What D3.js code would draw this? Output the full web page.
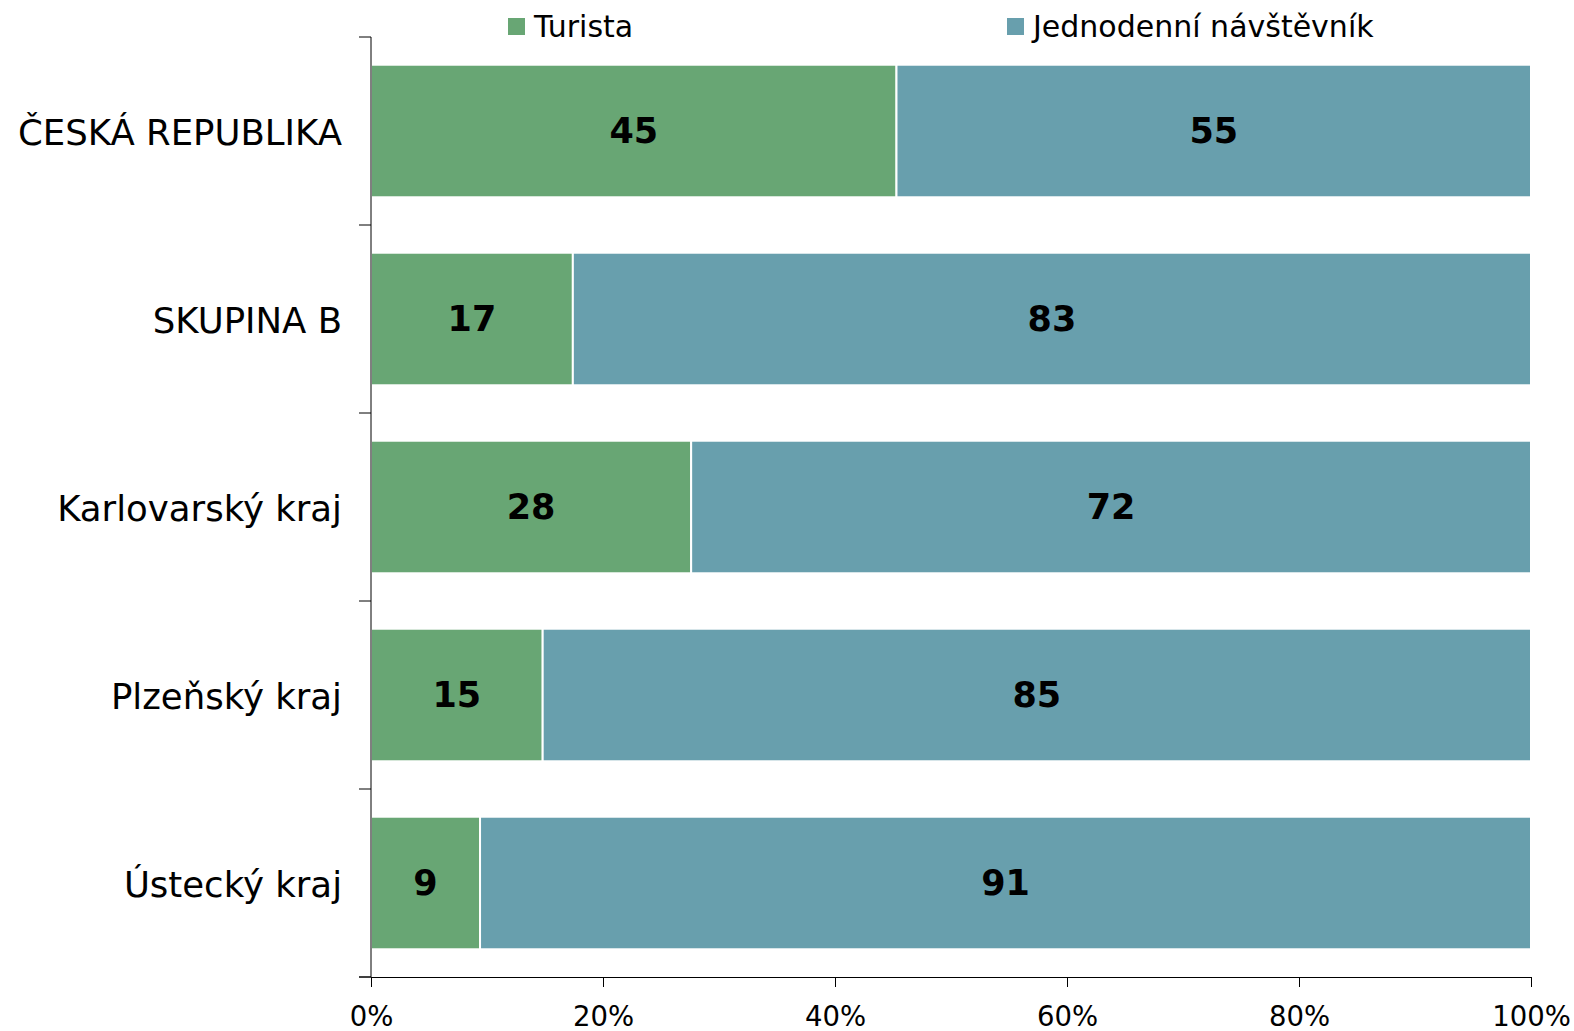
<!DOCTYPE html>
<html><head><meta charset="utf-8">
<script src="https://cdn.jsdelivr.net/npm/d3@7"></script>
<style>body{margin:0;background:#fff;} svg{display:block;font-family:"DejaVu Sans",Verdana,sans-serif;}</style>
</head><body>
<svg id="c" width="1574" height="1031"></svg>
<script>
const categories = ["ČESKÁ REPUBLIKA","SKUPINA B","Karlovarský kraj","Plzeňský kraj","Ústecký kraj"];
const turista = [45.3,17.4,27.6,14.8,9.4];
const jednodenni = [54.7,82.6,72.4,85.2,90.6];
const seriesNames = ["Turista","Jednodenní návštěvník"];
const seriesColors = ["#68a674","#689fad"];
const tickValues = [0,20,40,60,80,100];

const svg = d3.select("#c");
const x0 = 371, x1 = 1531, yTop = 37, yBot = 977;
const x = d3.scaleLinear().domain([0,100]).range([x0,x1]);
const y = d3.scaleBand().domain(categories).range([yTop,yBot]).paddingInner(0.295).paddingOuter(0.1475);

const stackData = categories.map((c,i)=>({cat:c, Turista:turista[i], "Jednodenní návštěvník":jednodenni[i]}));
const stack = d3.stack().keys(seriesNames)(stackData);

stack.forEach((s,si)=>{
  const g = svg.append("g");
  g.selectAll("rect").data(s).join("rect")
    .attr("x",d=>x(d[0])).attr("y",d=>y(d.data.cat))
    .attr("width",d=>x(d[1])-x(d[0])).attr("height",y.bandwidth())
    .attr("fill",seriesColors[si]).attr("stroke","#fff").attr("stroke-width",2);
  g.selectAll("text").data(s).join("text")
    .attr("x",d=>(x(d[0])+x(d[1]))/2).attr("y",d=>y(d.data.cat)+y.bandwidth()/2)
    .attr("text-anchor","middle").attr("dominant-baseline","central")
    .attr("font-weight","bold").attr("font-size",35).attr("fill","#000")
    .text(d=>Math.round(d[1]-d[0]));
});

// y axis line with ticks at band boundaries
const yAxisG = svg.append("g");
yAxisG.append("line").attr("x1",x0).attr("x2",x0).attr("y1",yTop).attr("y2",yBot).attr("stroke","#000").attr("stroke-width",1);
const step = (yBot-yTop)/categories.length;
d3.range(categories.length+1).forEach(i=>{
  yAxisG.append("line").attr("x1",x0-12).attr("x2",x0).attr("y1",yTop+i*step).attr("y2",yTop+i*step).attr("stroke","#000");
});
yAxisG.selectAll("text.cat").data(categories).join("text").attr("class","cat")
  .attr("x",342).attr("y",d=>y(d)+y.bandwidth()/2+1)
  .attr("text-anchor","end").attr("dominant-baseline","central")
  .attr("font-size",35.5).attr("fill","#000").text(d=>d);

// x axis
const xAxis = d3.axisBottom(x).tickValues(tickValues).tickFormat(d=>d+"%").tickSize(10).tickSizeOuter(0);
const xg = svg.append("g").attr("transform",`translate(0,${yBot})`).call(xAxis);
xg.select(".domain").attr("stroke","#000");
xg.selectAll(".tick line").attr("stroke","#000").attr("y1",0).attr("y2",10);
xg.selectAll(".tick text").attr("font-size",27.5).attr("font-family","DejaVu Sans, Verdana, sans-serif").attr("fill","#000").attr("dy","1.3em");
xg.append("line").attr("x1",x0-12).attr("x2",x0).attr("stroke","#000");

// legend
const legPos = [508,1007];
seriesNames.forEach((n,i)=>{
  svg.append("rect").attr("x",legPos[i]).attr("y",18).attr("width",17).attr("height",17).attr("fill",seriesColors[i]);
  svg.append("text").attr("x",legPos[i]+26).attr("y",37).attr("font-size",30).attr("fill","#000").text(n);
});
</script>
</body></html>
